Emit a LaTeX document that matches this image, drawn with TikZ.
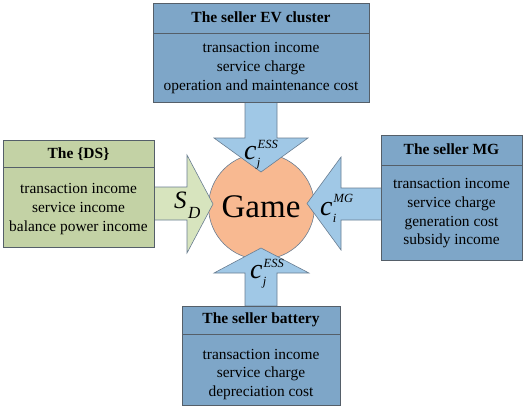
\documentclass[tikz,border=0pt]{standalone}
\usepackage{fontspec}
\setmainfont{Liberation Serif}
\definecolor{boxblue}{RGB}{126,166,200}
\definecolor{arrowblue}{RGB}{160,200,230}
\definecolor{boxgreen}{RGB}{195,210,165}
\definecolor{arrowgreen}{RGB}{215,228,190}
\definecolor{gameorange}{RGB}{248,185,145}
\definecolor{bordc}{RGB}{85,95,105}
\definecolor{arrc}{RGB}{105,125,145}
\newcommand\clab[5]{{\itshape\fontsize{#4}{#4}\selectfont #1\rlap{\kern1pt\raisebox{#5}{\fontsize{12.5}{12.5}\selectfont #3}}\kern0.3pt\raisebox{-7pt}{\fontsize{12.5}{12.5}\selectfont #2}}}
\begin{document}
\begin{tikzpicture}[x=1pt,y=-1pt,
  bluebox/.style={draw=bordc, line width=0.9pt, fill=boxblue, inner sep=0pt},
  greenbox/.style={draw=bordc, line width=0.9pt, fill=boxgreen, inner sep=0pt},
  bluearrow/.style={draw=arrc, line width=0.6pt, fill=arrowblue},
  greenarrow/.style={draw=arrc, line width=0.6pt, fill=arrowgreen},
  titletext/.style={font=\fontsize{15.5}{18}\selectfont\bfseries, inner sep=0pt},
  bodytext/.style={font=\fontsize{15.4}{18.7}\selectfont, align=center, inner sep=0pt},
  lab/.style={anchor=base west, inner sep=0pt}]
\useasboundingbox (0,0) rectangle (526,407);
% central circle
\node[circle, draw=arrc, line width=0.6pt, fill=gameorange, minimum size=106pt, inner sep=0pt] (game) at (261.5,206.5) {};
\node[font=\fontsize{33}{33}\selectfont, inner sep=0pt] (gametext) at (261,207) {Game};
% arrows
\draw[bluearrow] (245,102)--(245,138)--(214,138)--(261,172)--(308,138)--(277,138)--(277,102)--cycle;
\draw[bluearrow] (245,306)--(245,273)--(214,273)--(261,248)--(309,273)--(277,273)--(277,306)--cycle;
\draw[greenarrow] (154,187)--(187,187)--(187,155)--(213,204)--(187,253)--(187,220)--(154,220)--cycle;
\draw[bluearrow] (382,188)--(341,188)--(341,157)--(307,203.5)--(341,250)--(341,220)--(382,220)--cycle;
% top box
\node[bluebox, minimum width=216pt, minimum height=30pt] (topT) at (261,18) {};
\node[bluebox, minimum width=216pt, minimum height=69pt] (topB) at (261,67.5) {};
\node[titletext] (topTt) at (261,17.5) {The seller EV cluster};
\node[bodytext] (topBt) at (261,68) {transaction income\\service charge\\operation and maintenance cost};
% left box
\node[greenbox, minimum width=151pt, minimum height=27pt] (leftT) at (78.5,153.5) {};
\node[greenbox, minimum width=151pt, minimum height=80pt] (leftB) at (78.5,207) {};
\node[titletext] (leftTt) at (78.5,154) {The \{DS\}};
\node[bodytext] (leftBt) at (78.5,209) {transaction income\\service income\\balance power income};
% right box
\node[bluebox, minimum width=141pt, minimum height=30pt] (rightT) at (451.5,150) {};
\node[bluebox, minimum width=141pt, minimum height=95pt] (rightB) at (451.5,212.5) {};
\node[titletext] (rightTt) at (451.5,149.5) {The seller MG};
\node[bodytext] (rightBt) at (451.5,213.5) {transaction income\\service charge\\generation cost\\subsidy income};
% bottom box
\node[bluebox, minimum width=158pt, minimum height=28pt] (botT) at (261,320) {};
\node[bluebox, minimum width=158pt, minimum height=71pt] (botB) at (261,369.5) {};
\node[titletext] (botTt) at (261,320) {The seller battery};
\node[bodytext] (botBt) at (261,374.5) {transaction income\\service charge\\depreciation cost};
% labels
\node[lab] (labtop) at (244,159) {\clab{c}{j}{ESS}{28}{11pt}};
\node[lab] (labbot) at (250,278) {\clab{c}{j}{ESS}{28}{11pt}};
\node[lab] (labright) at (320,215) {\clab{c}{i}{MG}{28}{12.5pt}};
\node[lab] (lableft) at (174,208) {{\itshape\fontsize{25}{25}\selectfont S\kern1.5pt\raisebox{-10pt}{\fontsize{17}{17}\selectfont D}}};
\end{tikzpicture}
\end{document}
